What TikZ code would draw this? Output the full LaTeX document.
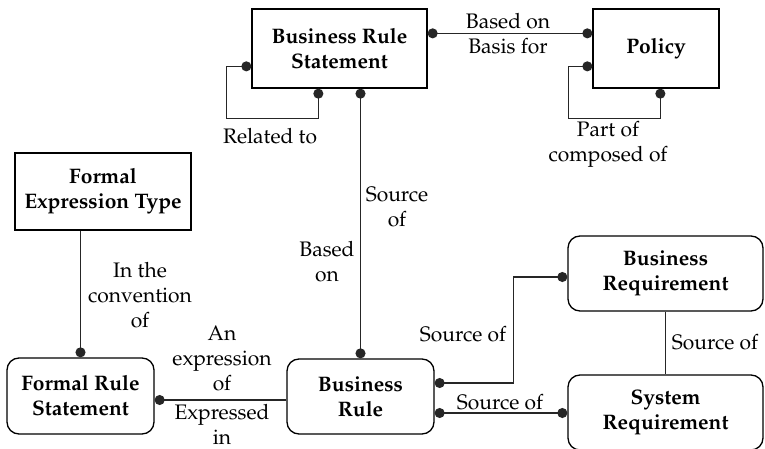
\documentclass[tikz,border=0pt]{standalone}
\usepackage[T1]{fontenc}
\usepackage{mathpazo}
\usetikzlibrary{arrows.meta}

\tikzset{
  entity/.style={draw, line width=1.3pt, align=center, inner sep=0pt,
    font=\fontsize{21}{25}\selectfont\bfseries},
  sqbox/.style={entity},
  rndbox/.style={entity, rounded corners=12pt},
  link/.style={line width=1.4pt, draw=black!85},
  dotend/.style={-{Circle[length=10pt]}},
  dotboth/.style={{Circle[length=10pt]}-{Circle[length=10pt]}},
  lbl/.style={align=center, inner sep=0pt, font=\fontsize{21}{25}\selectfont}
}

\begin{document}
\begin{tikzpicture}[x=1pt, y=-1pt]
  \useasboundingbox (0,0) rectangle (765,449);

  % entities
  \node[sqbox, minimum width=175pt, minimum height=79pt] (brs) at (339.5,48.5) {Business Rule\\Statement};
  \node[sqbox, minimum width=126pt, minimum height=79pt] (pol) at (656,48.5) {Policy};
  \node[sqbox, minimum width=176pt, minimum height=77pt] (fet) at (103,191.5) {Formal\\Expression Type};
  \node[rndbox, minimum width=147pt, minimum height=76pt] (frs) at (80.5,396) {Formal Rule\\Statement};
  \node[rndbox, minimum width=147pt, minimum height=75pt] (br) at (360.5,396.5) {Business\\Rule};
  \node[rndbox, minimum width=195pt, minimum height=75pt] (breq) at (665.5,273.5) {Business\\Requirement};
  \node[rndbox, minimum width=195pt, minimum height=75pt] (sreq) at (665.5,412.5) {System\\Requirement};

  % relationships
  \draw[link, dotboth] ([yshift=-25pt]brs.north east) -- ([yshift=-25pt]pol.north west);
  \draw[link, dotboth] ([yshift=-58pt]brs.north west) -- ++(-25,0) -- ++(0,52) -| ([xshift=67pt]brs.south west);
  \draw[link, dotboth] ([yshift=-58pt]pol.north west) -- ++(-24,0) -- ++(0,52) -| ([xshift=68pt]pol.south west);
  \draw[link, dotboth] (br.north |- brs.south) -- (br.north);
  \draw[link, dotend] (frs.north |- fet.south) -- (frs.north);
  \draw[link, dotend] ([yshift=-4pt]frs.east -| br.west) -- ([yshift=-4pt]frs.east);
  \draw[link, dotboth] ([yshift=13.5pt]br.east) -- ++(79,0) |- ([yshift=-3.5pt]breq.west);
  \draw[link, dotboth] ([yshift=-16.5pt]br.east) -- ([yshift=-16.5pt]br.east -| sreq.west);
  \draw[link] (breq.south) -- (sreq.north);

  % relationship labels
  \node[lbl] (l1) at (508,34) {Based on\\Basis for};
  \node[lbl] (l2) at (270,136) {Related to};
  \node[lbl] (l3) at (608,144) {Part of\\composed of};
  \node[lbl] (l4) at (397,207) {Source\\of};
  \node[lbl] (l5) at (327,262) {Based\\on};
  \node[lbl] (l6) at (140,295) {In the\\convention\\of};
  \node[lbl] (l7) at (222,358) {An\\expression\\of};
  \node[lbl] (l8) at (222,424) {Expressed\\in};
  \node[lbl] (l9) at (463,334) {Source of};
  \node[lbl] (l10) at (500,402) {Source of};
  \node[lbl] (l11) at (715,342) {Source of};
\end{tikzpicture}
\end{document}
